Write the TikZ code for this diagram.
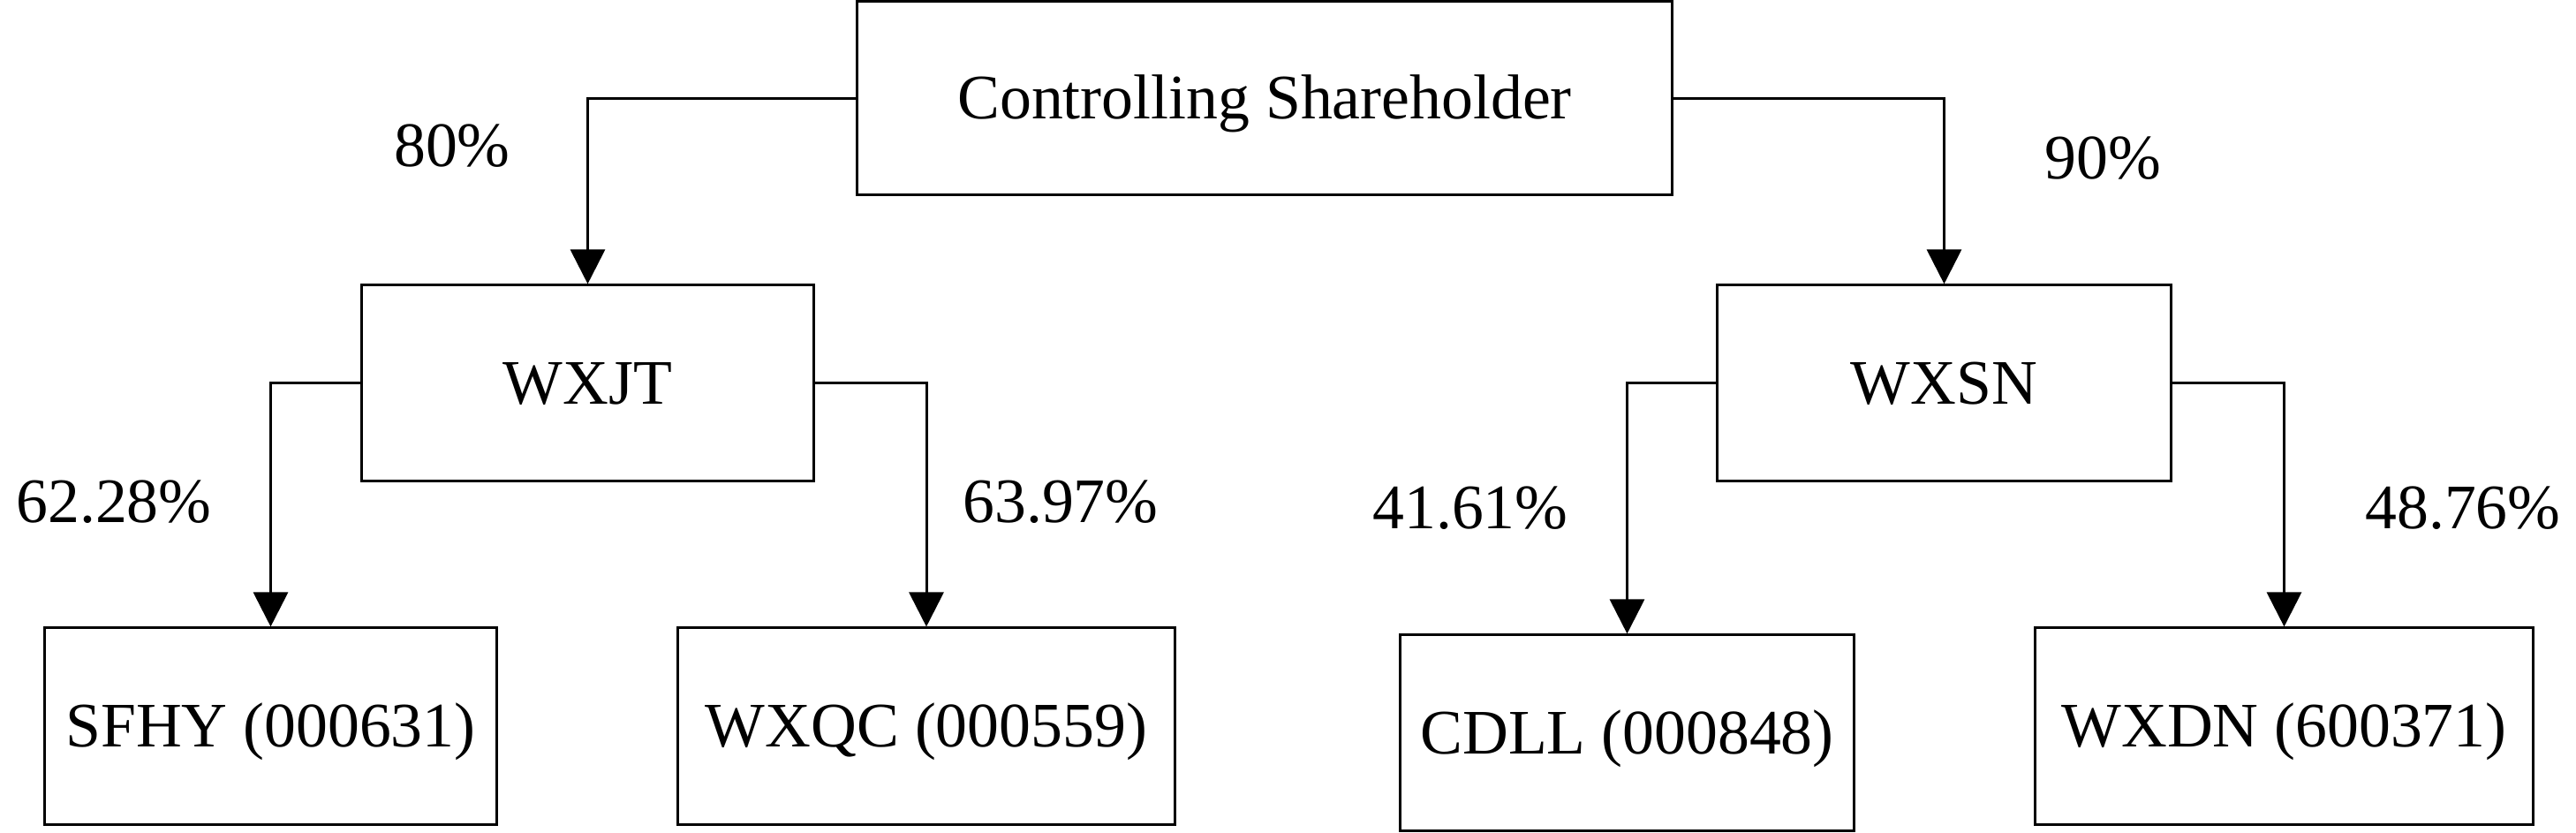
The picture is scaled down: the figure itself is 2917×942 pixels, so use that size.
\documentclass[tikz,border=0pt]{standalone}
\usepackage{fontspec}
\setmainfont{Liberation Serif}
\usetikzlibrary{arrows.meta}
\begin{document}
\begin{tikzpicture}[x=0.01cm,y=-0.01cm,
  every node/.style={font=\fontsize{20.4}{24}\selectfont},
  box/.style={draw, line width=0.03cm, inner sep=0pt, text height=13.5pt, text depth=0pt, minimum height=2.2cm},
  pct/.style={anchor=base, inner sep=0pt},
  conn/.style={line width=0.03cm, -{Triangle[width=0.39cm,length=0.39cm]}}]
\useasboundingbox (0,0) rectangle (2917,942);
\node[box, minimum width=9.22cm, minimum height=2.18cm] (cs) at (1432,111) {Controlling Shareholder};
\node[box, minimum width=5.11cm, minimum height=2.21cm] (wxjt) at (665.5,433.5) {WXJT};
\node[box, minimum width=5.13cm, minimum height=2.21cm] (wxsn) at (2201.5,433.5) {WXSN};
\node[box, minimum width=5.11cm, minimum height=2.22cm] (sfhy) at (306.5,822) {SFHY (000631)};
\node[box, minimum width=5.62cm, minimum height=2.22cm] (wxqc) at (1049,822) {WXQC (000559)};
\node[box, minimum width=5.13cm, minimum height=2.21cm] (cdll) at (1842.5,829.5) {CDLL (000848)};
\node[box, minimum width=5.63cm, minimum height=2.22cm] (wxdn) at (2586.5,822) {WXDN (600371)};
\draw[conn] (cs.west) -| (wxjt.north);
\draw[conn] (cs.east) -| (wxsn.north);
\draw[conn] (wxjt.west) -| (sfhy.north);
\draw[conn] (wxjt.east) -| (wxqc.north);
\draw[conn] (wxsn.west) -| (cdll.north);
\draw[conn] (wxsn.east) -| (wxdn.north);
\node[pct] (l80) at (512,188) {80\%};
\node[pct] (l90) at (2381,202) {90\%};
\node[pct] (l6228) at (129,591) {62.28\%};
\node[pct] (l6397) at (1201,591) {63.97\%};
\node[pct] (l4161) at (1665,598) {41.61\%};
\node[pct] (l4876) at (2789,598) {48.76\%};
\end{tikzpicture}
\end{document}
